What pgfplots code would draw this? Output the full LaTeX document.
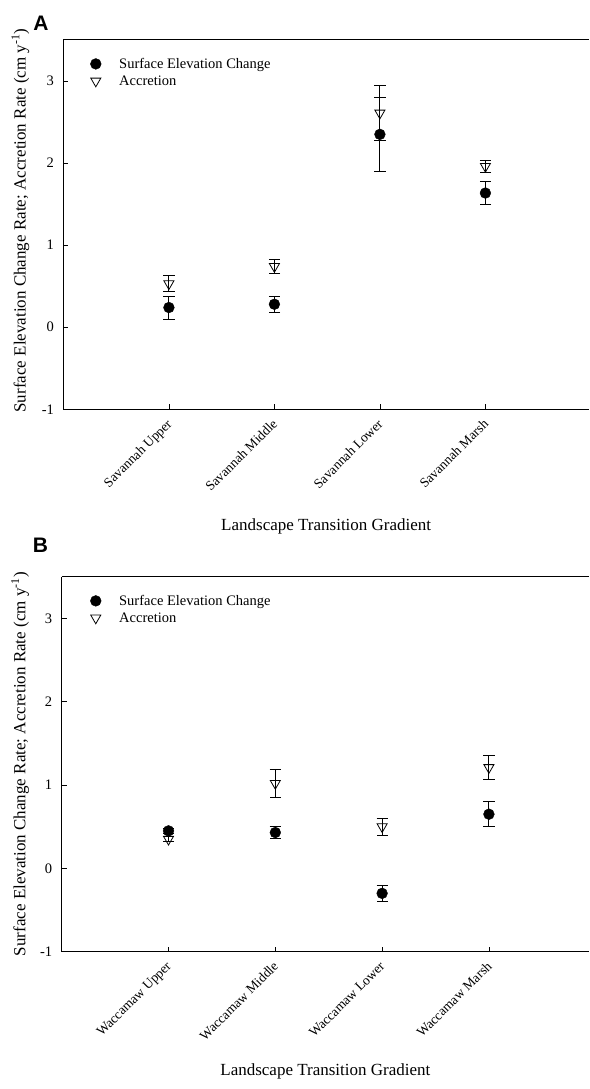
\documentclass[border=0pt]{standalone}
\usepackage{pgfplots}
\pgfplotsset{compat=1.18}
\usepackage{fontspec}
\setmainfont{Liberation Serif}
\newfontfamily\panelfont{Liberation Sans}

\pgfplotstableread{
x sec secerr acc accerr
1 0.24 0.14  0.53 0.10
2 0.28 0.095 0.74 0.08
3 2.35 0.45  2.61 0.33
4 1.635 0.14 1.96 0.075
}\savdata

\pgfplotstableread{
x sec secerr acc accerr
1 0.45 0.03  0.35 0.03
2 0.43 0.07  1.02 0.17
3 -0.30 0.095 0.50 0.10
4 0.65 0.15  1.21 0.145
}\wacdata

\pgfplotsset{
  panel/.style={
    scale only axis,
    anchor=south west,
    xmin=0, ymin=-1, ymax=3.5,
    axis x line=box, axis y line=left,
    xtick={1,2,3,4},
    ytick={-1,0,1,2,3},
    yticklabels={-1,0,1,2,3},
    tick align=inside,
    xtick pos=bottom, ytick pos=left,
    major tick length=5pt,
    axis line style={line width=1pt, -},
    every tick/.style={line width=0.8pt, black},
    yticklabel style={font=\fontsize{14.5}{16}\selectfont, xshift=-6pt},
    xticklabel style={font=\fontsize{13.5}{15}\selectfont, xshift=-3pt, yshift=-4pt, rotate=45, anchor=north east},
    every axis x label/.style={at={(axis description cs:0.5,0)}, anchor=center, font=\fontsize{17}{20}\selectfont},
    every axis y label/.style={rotate=90, anchor=center, font=\fontsize{17}{20}\selectfont},
    xlabel={Landscape Transition Gradient},
    ylabel={Surface Elevation Change Rate; Accretion Rate (cm y\textsuperscript{-1})},
    legend style={draw=none, fill=none, font=\fontsize{14.5}{17.7}\selectfont,
      anchor=north west, row sep=1.7pt, column sep=16pt, inner sep=0pt},
    legend cell align=left,
    reverse legend,
  },
  ebar/.style={
    error bars/.cd, y dir=both, y explicit,
    error bar style={line width=1pt, black},
    error mark options={line width=1pt, black, mark size=5.6pt, rotate=90},
  },
}

\begin{document}
\begin{tikzpicture}
\path (0,0) rectangle (589pt,1089pt);

% Panel A
\begin{axis}[panel,
  at={(63.4pt,679.7pt)}, width=525.6pt, height=369.3pt, xmax=4.982,
  xticklabels={Savannah Upper, Savannah Middle, Savannah Lower, Savannah Marsh},
  every axis x label/.append style={yshift=-117pt},
  every axis y label/.append style={at={(axis description cs:-0.082,0.511)}},
  legend style={at={(axis description cs:0.051,0.957)}},
]
\addplot[only marks, mark=triangle, mark size=5.8pt, mark options={rotate=180, fill=white, draw=black, line width=0.8pt}, ebar]
  table[x=x, y=acc, y error=accerr] {\savdata};
\addlegendentry{Accretion}
\addplot[only marks, mark=*, mark size=5.4pt, mark options={fill=black, draw=black}, ebar]
  table[x=x, y=sec, y error=secerr] {\savdata};
\addlegendentry{Surface Elevation Change}
\end{axis}

% Panel B
\begin{axis}[panel,
  at={(61.7pt,137.3pt)}, width=527.3pt, height=375pt, xmax=4.937,
  xticklabels={Waccamaw Upper, Waccamaw Middle, Waccamaw Lower, Waccamaw Marsh},
  every axis x label/.append style={yshift=-120pt},
  every axis y label/.append style={at={(axis description cs:-0.079,0.5)}},
  legend style={at={(axis description cs:0.054,0.957)}},
]
\addplot[only marks, mark=triangle, mark size=5.8pt, mark options={rotate=180, fill=white, draw=black, line width=0.8pt}, ebar]
  table[x=x, y=acc, y error=accerr] {\wacdata};
\addlegendentry{Accretion}
\addplot[only marks, mark=*, mark size=5.4pt, mark options={fill=black, draw=black}, ebar]
  table[x=x, y=sec, y error=secerr] {\wacdata};
\addlegendentry{Surface Elevation Change}
\end{axis}

\node[font=\panelfont\bfseries\fontsize{21}{24}\selectfont] at (41pt,1066pt) {A};
\node[font=\panelfont\bfseries\fontsize{21}{24}\selectfont] at (40.5pt,544pt) {B};
\end{tikzpicture}
\end{document}
